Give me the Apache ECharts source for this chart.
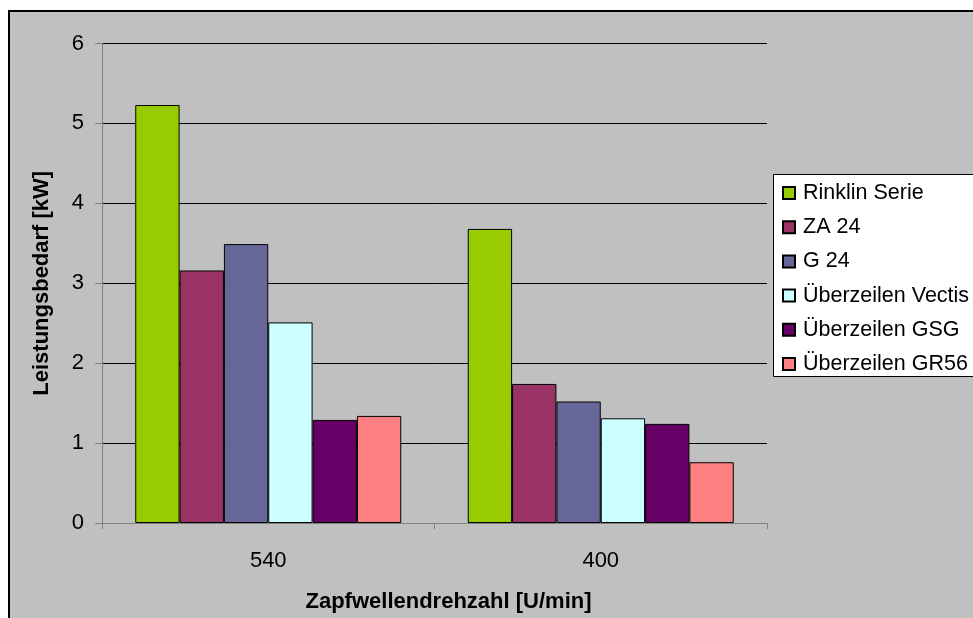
<!DOCTYPE html>
<html>
<head>
<meta charset="utf-8">
<script src="https://cdn.jsdelivr.net/npm/echarts@6/dist/echarts.min.js"></script>
<style>
* { margin: 0; padding: 0; }
#chart-container { width: 973px; height: 618px; }
</style>
</head>
<body>
<div id="chart-container"></div>
<script>
// Zapfwellendrehzahl-Kategorien
const categories = ['540', '400'];
const seriesNames = ['Rinklin Serie', 'ZA 24', 'G 24', 'Überzeilen Vectis', 'Überzeilen GSG', 'Überzeilen GR56'];
const seriesColors = ['#99CC00', '#993366', '#666699', '#CCFFFF', '#660066', '#FF8080'];
// Leistungsbedarf [kW] je Serie: [540, 400]
const rinklin = [5.23, 3.68];
const za24 = [3.16, 1.74];
const g24 = [3.49, 1.52];
const vectis = [2.51, 1.31];
const gsg = [1.29, 1.24];
const gr56 = [1.34, 0.76];
const values = [rinklin, za24, g24, vectis, gsg, gr56];

const dom = document.getElementById('chart-container');
const myChart = echarts.init(dom, null, { renderer: 'canvas' });

const font = 'Liberation Sans, Arial, sans-serif';

let option = {
    animation: false,
    backgroundColor: '#fff',
    textStyle: { fontFamily: font },
    graphic: [
        {
            type: 'rect',
            z: 0,
            shape: { x: 9, y: 11, width: 980, height: 620 },
            style: { fill: '#C0C0C0', stroke: '#000', lineWidth: 2 }
        },
        {
            type: 'rect',
            z: 1,
            shape: { x: 773.5, y: 174.5, width: 210, height: 202 },
            style: { fill: '#fff', stroke: '#000', lineWidth: 1 }
        }
    ],
    grid: {
        left: 102,
        top: 43.5,
        right: 206,
        bottom: 91,
        show: true,
        backgroundColor: '#fff',
        borderWidth: 0
    },
    legend: {
        orient: 'vertical',
        left: 777,
        top: 177,
        z: 5,
        icon: 'rect',
        itemWidth: 12,
        itemHeight: 12,
        itemGap: 12.2,
        textStyle: { fontSize: 21.5, color: '#000', fontFamily: font, padding: [0, 0, 0, 3] },
        data: seriesNames
    },
    xAxis: {
        type: 'category',
        data: categories,
        name: 'Zapfwellendrehzahl [U/min]',
        nameLocation: 'middle',
        nameGap: 68,
        nameTextStyle: { fontSize: 22, fontWeight: 'bold', color: '#000', padding: [0, 0, 0, 28] },
        axisLine: { lineStyle: { color: '#808080' } },
        axisTick: { show: true, length: 6, lineStyle: { color: '#808080' } },
        axisLabel: { fontSize: 22, color: '#000', margin: 27 }
    },
    yAxis: {
        type: 'value',
        min: 0,
        max: 6,
        interval: 1,
        name: 'Leistungsbedarf [kW]',
        nameLocation: 'middle',
        nameGap: 49,
        nameTextStyle: { fontSize: 22, fontWeight: 'bold', color: '#000' },
        axisLine: { show: true, lineStyle: { color: '#808080' } },
        axisTick: { show: true, length: 7, lineStyle: { color: '#808080' } },
        axisLabel: { fontSize: 22, color: '#000', margin: 18 },
        splitLine: { lineStyle: { color: '#000', width: 1 } }
    },
    series: seriesNames.map((name, i) => ({
        name: name,
        type: 'bar',
        data: values[i],
        barGap: '0%',
        barCategoryGap: '20%',
        itemStyle: {
            color: seriesColors[i],
            borderColor: '#000',
            borderWidth: 1
        }
    }))
};

myChart.setOption(option);
window.addEventListener('resize', () => {
    myChart.resize();
});
</script>
</body>
</html>
